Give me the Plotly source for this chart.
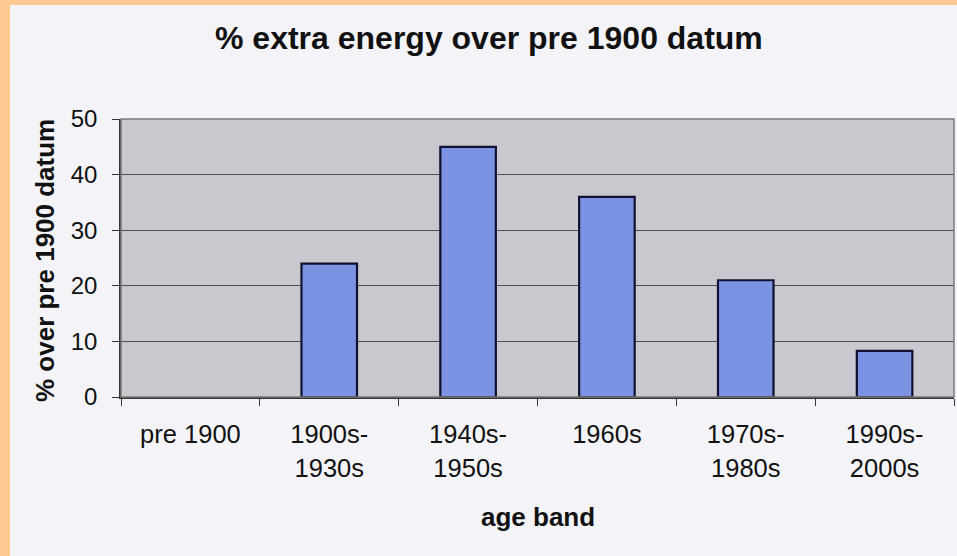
import plotly.graph_objects as go

# Age bands and the extra energy (%) relative to the pre-1900 datum
age_bands = ["pre 1900", "1900s-<br>1930s", "1940s-<br>1950s", "1960s",
             "1970s-<br>1980s", "1990s-<br>2000s"]
extra_energy = [0, 24, 45, 36, 21, 8.3]
y_ticks = [0, 10, 20, 30, 40, 50]

W, H = 957, 556
ML, MR, MT, MB = 121, 3, 119, 159
PW = W - ML - MR
PH = H - MT - MB

FONT = "Liberation Sans, Arial, sans-serif"
INK = "#111111"

# no outline on an empty (zero-height) bar
outline_widths = [0 if v == 0 else 2.2 for v in extra_energy]

fig = go.Figure()
fig.add_trace(go.Bar(
    x=age_bands,
    y=extra_energy,
    marker=dict(color="#7C93E4", line=dict(color="#101030", width=outline_widths)),
    width=0.4,
    hoverinfo="x+y",
))

fig.update_layout(
    width=W, height=H,
    margin=dict(l=ML, r=MR, t=MT, b=MB),
    paper_bgcolor="#F4F4F8",
    plot_bgcolor="#CAC8CF",
    showlegend=False,
    font=dict(family=FONT, color=INK),
    xaxis=dict(
        type="category",
        tickson="boundaries",
        ticks="outside", ticklen=7, tickcolor="#333333", tickwidth=1,
        ticklabelstandoff=14,
        showline=True, linecolor="#333333", linewidth=1.5,
        showgrid=False,
        tickfont=dict(size=25.5, color=INK),
        fixedrange=True,
    ),
    yaxis=dict(
        range=[0, 50],
        tickvals=y_ticks,
        ticks="outside", ticklen=7, tickcolor="#333333", tickwidth=1,
        ticklabelstandoff=10,
        showline=True, linecolor="#333333", linewidth=1.5,
        showgrid=True, gridcolor="#4f4f4f", gridwidth=1,
        zeroline=False,
        tickfont=dict(size=24, color=INK),
        fixedrange=True,
    ),
)

# Plot-area frame
fig.add_shape(type="rect", xref="paper", yref="paper", x0=0, x1=1, y0=0, y1=1,
              line=dict(color="#7a7a7a", width=1.5), layer="above")

# Orange frame strips on the left and top edges
fig.add_shape(type="rect", xref="paper", yref="paper",
              x0=-ML / PW, x1=(-ML + 10) / PW, y0=-MB / PH, y1=(PH + MT) / PH,
              fillcolor="#FDC891", line=dict(width=0), layer="below")
fig.add_shape(type="rect", xref="paper", yref="paper",
              x0=-ML / PW, x1=(PW + MR) / PW, y0=(PH + MT - 5) / PH, y1=(PH + MT) / PH,
              fillcolor="#FDC891", line=dict(width=0), layer="below")

# Chart title
fig.add_annotation(text="<b>% extra energy over pre 1900 datum</b>",
                   xref="paper", yref="paper", x=(489 - ML) / PW, y=(PH + MT - 38) / PH,
                   xanchor="center", yanchor="middle", showarrow=False,
                   font=dict(size=32, color=INK, family=FONT))

# Axis titles
fig.add_annotation(text="<b>age band</b>", xref="paper", yref="paper",
                   x=0.5, y=-(517 - MT - PH) / PH, xanchor="center", yanchor="middle",
                   showarrow=False, font=dict(size=26, color=INK, family=FONT))
fig.add_annotation(text="<b>% over pre 1900 datum</b>", xref="paper", yref="paper",
                   x=(45 - ML) / PW, y=(H - MB - 261) / PH, xanchor="center", yanchor="middle",
                   textangle=-90, showarrow=False,
                   font=dict(size=26, color=INK, family=FONT))

fig.write_html("out.html")
